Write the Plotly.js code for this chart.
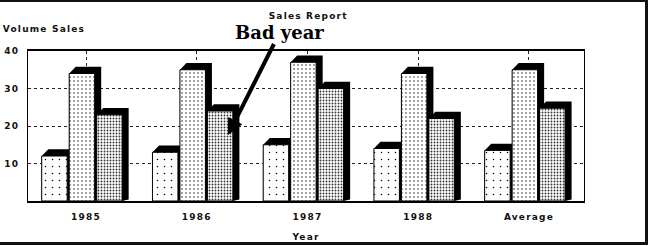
<!DOCTYPE html>
<html>
<head>
<meta charset="utf-8">
<script src="https://cdn.plot.ly/plotly-3.0.1.min.js"></script>
<style>
  html, body { margin: 0; padding: 0; background: #fff; }
  #wrap { position: relative; width: 656px; height: 246px; }
  #chart { width: 656px; height: 246px; }
  #frame { position: absolute; left: -4px; top: 0px; width: 649px; height: 240px;
           border-top: 2px solid #111; border-right: 3px solid #111; border-bottom: 3px solid #111;
           pointer-events: none; }
  .main-svg text { letter-spacing: 1.2px; }
</style>
</head>
<body>
<div id="wrap"><div id="chart"></div><div id="frame"></div></div>
<script>
// ---- data ----
const categories = ['1985', '1986', '1987', '1988', 'Average'];
const seriesA = [12, 13, 15, 14, 13.5];
const seriesB = [34, 35, 37, 34, 35];
const seriesC = [23, 24, 30, 22, 24.75];
const yTicks = [10, 20, 30, 40];
const titleText = 'Sales Report';
const yTitleText = 'Volume Sales';
const xTitleText = 'Year';
const noteText = 'Bad year';

// ---- style / geometry ----
const barWidth = 0.23;
const offsets = [-0.40, -0.152, 0.096];
const depthX = 0.059;   // extrusion in category units
const depthY = 1.8;     // extrusion in value units
const xPos = categories.map((c, i) => i);
const xRange = [-0.524, 4.497];
const yRange = [0, 40];

const patterns = [
  {shape: '.', size: 7, solidity: 0.035, fgcolor: '#000', bgcolor: '#fff'},
  {shape: '.', size: 4, solidity: 0.09, fgcolor: '#000', bgcolor: '#fff'},
  {shape: '.', size: 3, solidity: 0.3, fgcolor: '#333', bgcolor: '#fff'}
];
const allSeries = [seriesA, seriesB, seriesC];

const traces = [];
// shadows (extrusion) on base axes
allSeries.forEach((vals, s) => {
  const xs = [], ys = [];
  vals.forEach((v, i) => {
    const x0 = xPos[i] + offsets[s];
    const x1 = x0 + barWidth;
    xs.push(x0, x0 + depthX, x1 + depthX, x1 + depthX, x1, x0, x0, null);
    ys.push(v, v + depthY, v + depthY, 0.4, 0, 0, v, null);
  });
  traces.push({
    type: 'scatter', mode: 'lines', x: xs, y: ys, fill: 'toself',
    fillcolor: '#000', line: {width: 0, color: '#000'}, hoverinfo: 'skip',
    showlegend: false, xaxis: 'x', yaxis: 'y'
  });
});
// bars on overlay axes (drawn above the shadows)
allSeries.forEach((vals, s) => {
  traces.push({
    type: 'bar', x: xPos, y: vals, width: barWidth, offset: offsets[s],
    marker: {color: '#fff', line: {color: '#000', width: 1}, pattern: patterns[s]},
    showlegend: false, xaxis: 'x2', yaxis: 'y2'
  });
});

const baseFont = {family: 'DejaVu Sans', size: 9, color: '#111', weight: 'bold'};

const layout = {
  width: 656, height: 246,
  margin: {l: 28, r: 72, t: 51, b: 45},
  paper_bgcolor: '#fff', plot_bgcolor: '#fff',
  showlegend: false,
  barmode: 'overlay',
  font: baseFont,
  title: {text: titleText, font: baseFont, xref: 'paper', x: 0.504, xanchor: 'center',
          yref: 'container', y: 0.937, yanchor: 'middle'},
  xaxis: {
    range: xRange, tickmode: 'array', tickvals: xPos, ticktext: categories,
    showgrid: true, gridcolor: '#222', gridwidth: 1, griddash: 'dot',
    showline: true, mirror: true, linecolor: '#000', linewidth: 2,
    ticks: '', tickfont: baseFont, zeroline: false, automargin: false,
    ticklabelstandoff: 6,
    title: {text: xTitleText, font: baseFont, standoff: 13}
  },
  yaxis: {
    range: yRange, tickmode: 'array', tickvals: yTicks,
    showgrid: true, gridcolor: '#222', gridwidth: 1, griddash: 'dot',
    showline: true, mirror: true, linecolor: '#000', linewidth: 1,
    ticks: '', tickfont: baseFont, zeroline: false, automargin: false,
    ticklabelstandoff: 6
  },
  xaxis2: {range: xRange, overlaying: 'x', visible: false, fixedrange: true},
  yaxis2: {range: yRange, overlaying: 'y', visible: false, fixedrange: true},
  annotations: [
    {text: yTitleText, xref: 'paper', yref: 'paper', x: 0, y: 1, xshift: -20, yshift: 22,
     xanchor: 'left', yanchor: 'middle', showarrow: false, font: baseFont},
    {text: noteText, xref: 'x', yref: 'y', x: 1.282, y: 17.6, ax: 52, ay: -103,
     showarrow: true, arrowhead: 2, arrowsize: 0.8, arrowwidth: 4, arrowcolor: '#000',
     font: {family: 'DejaVu Serif', size: 18, color: '#000', weight: 'bold'}}
  ]
};

Plotly.newPlot('chart', traces, layout, {displayModeBar: false, staticPlot: true}).then(() => {
  document.querySelectorAll('.annotation-text').forEach(t => {
    if (t.textContent === noteText) t.style.letterSpacing = '0px';
  });
});
</script>
</body>
</html>
